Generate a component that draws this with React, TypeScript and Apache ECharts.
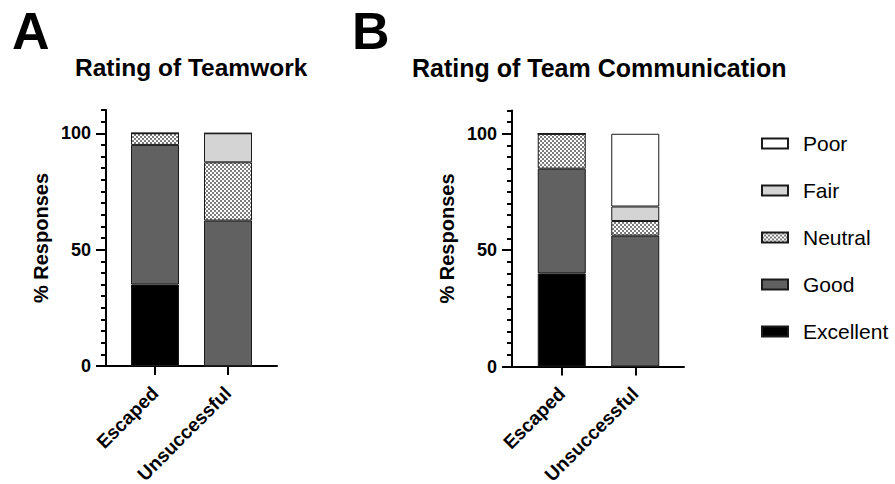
import React, { useEffect, useRef } from 'react';
import * as echarts from 'echarts';

// Outcome groups on the x axis
const categories = ['Escaped', 'Unsuccessful'];

// Rating levels, stacked from the bottom of each bar upwards
const ratingLevels = ['Excellent', 'Good', 'Neutral', 'Fair', 'Poor'];
// Legend lists them top-down
const legendOrder = ['Poor', 'Fair', 'Neutral', 'Good', 'Excellent'];

// Panel A: Rating of Teamwork (% of responses per group)
const teamworkExcellent = [35, 0];
const teamworkGood = [60, 62.5];
const teamworkNeutral = [5, 25];
const teamworkFair = [0, 12.5];
const teamworkPoor = [0, 0];

// Panel B: Rating of Team Communication (% of responses per group)
const commExcellent = [40, 0];
const commGood = [45, 56.25];
const commNeutral = [15, 6.25];
const commFair = [0, 6.25];
const commPoor = [0, 31.25];

// Value axis: labelled every 50, minor ticks every 5, axis drawn up to 110
const yLabelStep = 50;
const yLabelMax = 100;
const yMinorStep = 5;
const yAxisTop = 110;

const panelTitles = ['Rating of Teamwork', 'Rating of Team Communication'];
const panelLetters = ['A', 'B'];
const yAxisTitle = '% Responses';

const FONT = '"Liberation Sans", Arial, Helvetica, sans-serif';

function checkerFill() {
  const c = document.createElement('canvas');
  c.width = 4;
  c.height = 4;
  const ctx = c.getContext('2d')!;
  ctx.fillStyle = '#ffffff';
  ctx.fillRect(0, 0, 4, 4);
  ctx.fillStyle = '#7d7d7d';
  ctx.fillRect(0, 0, 2, 2);
  ctx.fillRect(2, 2, 2, 2);
  return { image: c.toDataURL(), repeat: 'repeat', imageWidth: 4, imageHeight: 4 } as any;
}

export default function App() {
  const ref = useRef<HTMLDivElement>(null);

  useEffect(() => {
    if (!ref.current) return;
    const chart = echarts.init(ref.current, undefined, { renderer: 'svg' });

    const levelFill: Record<string, any> = {
      Excellent: '#000000',
      Good: '#616161',
      Neutral: checkerFill(),
      Fair: '#d4d4d4',
      Poor: '#ffffff',
    };

    const panelData = [
      { Excellent: teamworkExcellent, Good: teamworkGood, Neutral: teamworkNeutral, Fair: teamworkFair, Poor: teamworkPoor },
      { Excellent: commExcellent, Good: commGood, Neutral: commNeutral, Fair: commFair, Poor: commPoor },
    ] as Record<string, number[]>[];

    // layout of the two panels (pixels)
    const layout = [
      { axisX: 106, plotLeft: 118.5, plotWidth: 146, frameWidth: 171, top: 110, titleX: 75, titleSize: 24.5, letterX: 12 },
      { axisX: 512, plotLeft: 525, plotWidth: 147, frameWidth: 172, top: 110.5, titleX: 412, titleSize: 25, letterX: 352 },
    ];
    const plotHeight = 256;
    const labelledHeight = (plotHeight * yLabelMax) / yAxisTop;

    const grid: any[] = [];
    const xAxis: any[] = [];
    const yAxis: any[] = [];
    const series: any[] = [];
    const graphic: any[] = [];

    const fixedGrid = (left: number, top: number, width: number, height: number) => ({
      left,
      top,
      width,
      height,
      containLabel: false,
      outerBoundsMode: 'none',
    });

    layout.forEach((L, p) => {
      const g0 = grid.length;
      // bars
      grid.push(fixedGrid(L.plotLeft, L.top, L.plotWidth, plotHeight));
      // axis frame (full-width x line, minor y ticks)
      grid.push(fixedGrid(L.axisX, L.top, L.frameWidth, plotHeight));
      // labelled y ticks
      grid.push(fixedGrid(L.axisX, L.top + plotHeight - labelledHeight, L.frameWidth, labelledHeight));

      xAxis.push({
        type: 'category',
        gridIndex: g0,
        data: categories,
        axisLine: { show: false },
        axisTick: { show: true, alignWithLabel: true, length: 9, lineStyle: { color: '#000', width: 2 } },
        axisLabel: {
          rotate: 45,
          margin: 24,
          interval: 0,
          color: '#000',
          fontFamily: FONT,
          fontWeight: 'bold',
          fontSize: 19,
        },
      });
      xAxis.push({
        type: 'value',
        gridIndex: g0 + 1,
        min: 0,
        max: 1,
        axisLine: { show: true, lineStyle: { color: '#000', width: 2 } },
        axisTick: { show: false },
        axisLabel: { show: false },
        splitLine: { show: false },
      });
      xAxis.push({
        type: 'value',
        gridIndex: g0 + 2,
        min: 0,
        max: 1,
        show: false,
      });

      yAxis.push({
        type: 'value',
        gridIndex: g0,
        min: 0,
        max: yAxisTop,
        show: false,
      });
      yAxis.push({
        type: 'value',
        gridIndex: g0 + 1,
        min: 0,
        max: yAxisTop,
        interval: yMinorStep,
        name: yAxisTitle,
        nameLocation: 'middle',
        nameGap: 55,
        nameRotate: 90,
        nameTextStyle: { color: '#000', fontFamily: FONT, fontWeight: 'bold', fontSize: 20 },
        axisLine: { show: true, lineStyle: { color: '#000', width: 2 } },
        axisTick: { show: true, length: 5, lineStyle: { color: '#000', width: 2 } },
        axisLabel: { show: false },
        splitLine: { show: false },
      });
      yAxis.push({
        type: 'value',
        gridIndex: g0 + 2,
        min: 0,
        max: yLabelMax,
        interval: yLabelStep,
        axisLine: { show: false },
        axisTick: { show: true, length: 10, lineStyle: { color: '#000', width: 2 } },
        axisLabel: { margin: 15, color: '#000', fontFamily: FONT, fontWeight: 'bold', fontSize: 18 },
        splitLine: { show: false },
      });

      const xIdx = xAxis.length - 3;
      const yIdx = yAxis.length - 3;
      ratingLevels.forEach((level) => {
        series.push({
          type: 'bar',
          name: level,
          xAxisIndex: xIdx,
          yAxisIndex: yIdx,
          stack: 'panel' + p,
          barWidth: 48,
          data: panelData[p][level],
          itemStyle: { color: levelFill[level], borderColor: '#1a1a1a', borderWidth: 1 },
          emphasis: { disabled: true },
        });
      });

      graphic.push({
        type: 'text',
        x: L.letterX,
        y: 30.5,
        style: {
          text: panelLetters[p],
          fill: '#000',
          font: `bold 52px ${FONT}`,
          textAlign: 'left',
          textVerticalAlign: 'middle',
        },
      });
      graphic.push({
        type: 'text',
        x: L.titleX,
        y: 67.5,
        style: {
          text: panelTitles[p],
          fill: '#000',
          font: `bold ${L.titleSize}px ${FONT}`,
          textAlign: 'left',
          textVerticalAlign: 'middle',
        },
      });
    });

    chart.setOption({
      animation: false,
      backgroundColor: '#ffffff',
      grid,
      xAxis,
      yAxis,
      series,
      graphic,
      legend: {
        orient: 'vertical',
        left: 756,
        top: 127.5,
        data: legendOrder,
        icon: 'rect',
        itemWidth: 26,
        itemHeight: 10,
        itemGap: 25,
        selectedMode: false,
        textStyle: {
          color: '#000',
          fontFamily: FONT,
          fontSize: 21,
          lineHeight: 22,
          padding: [0, 0, 0, 10],
        },
      },
    });

    return () => chart.dispose();
  }, []);

  return (
    <div
      ref={ref}
      style={{ position: 'fixed', left: 0, top: 0, width: 895, height: 484, background: '#fff' }}
    />
  );
}
